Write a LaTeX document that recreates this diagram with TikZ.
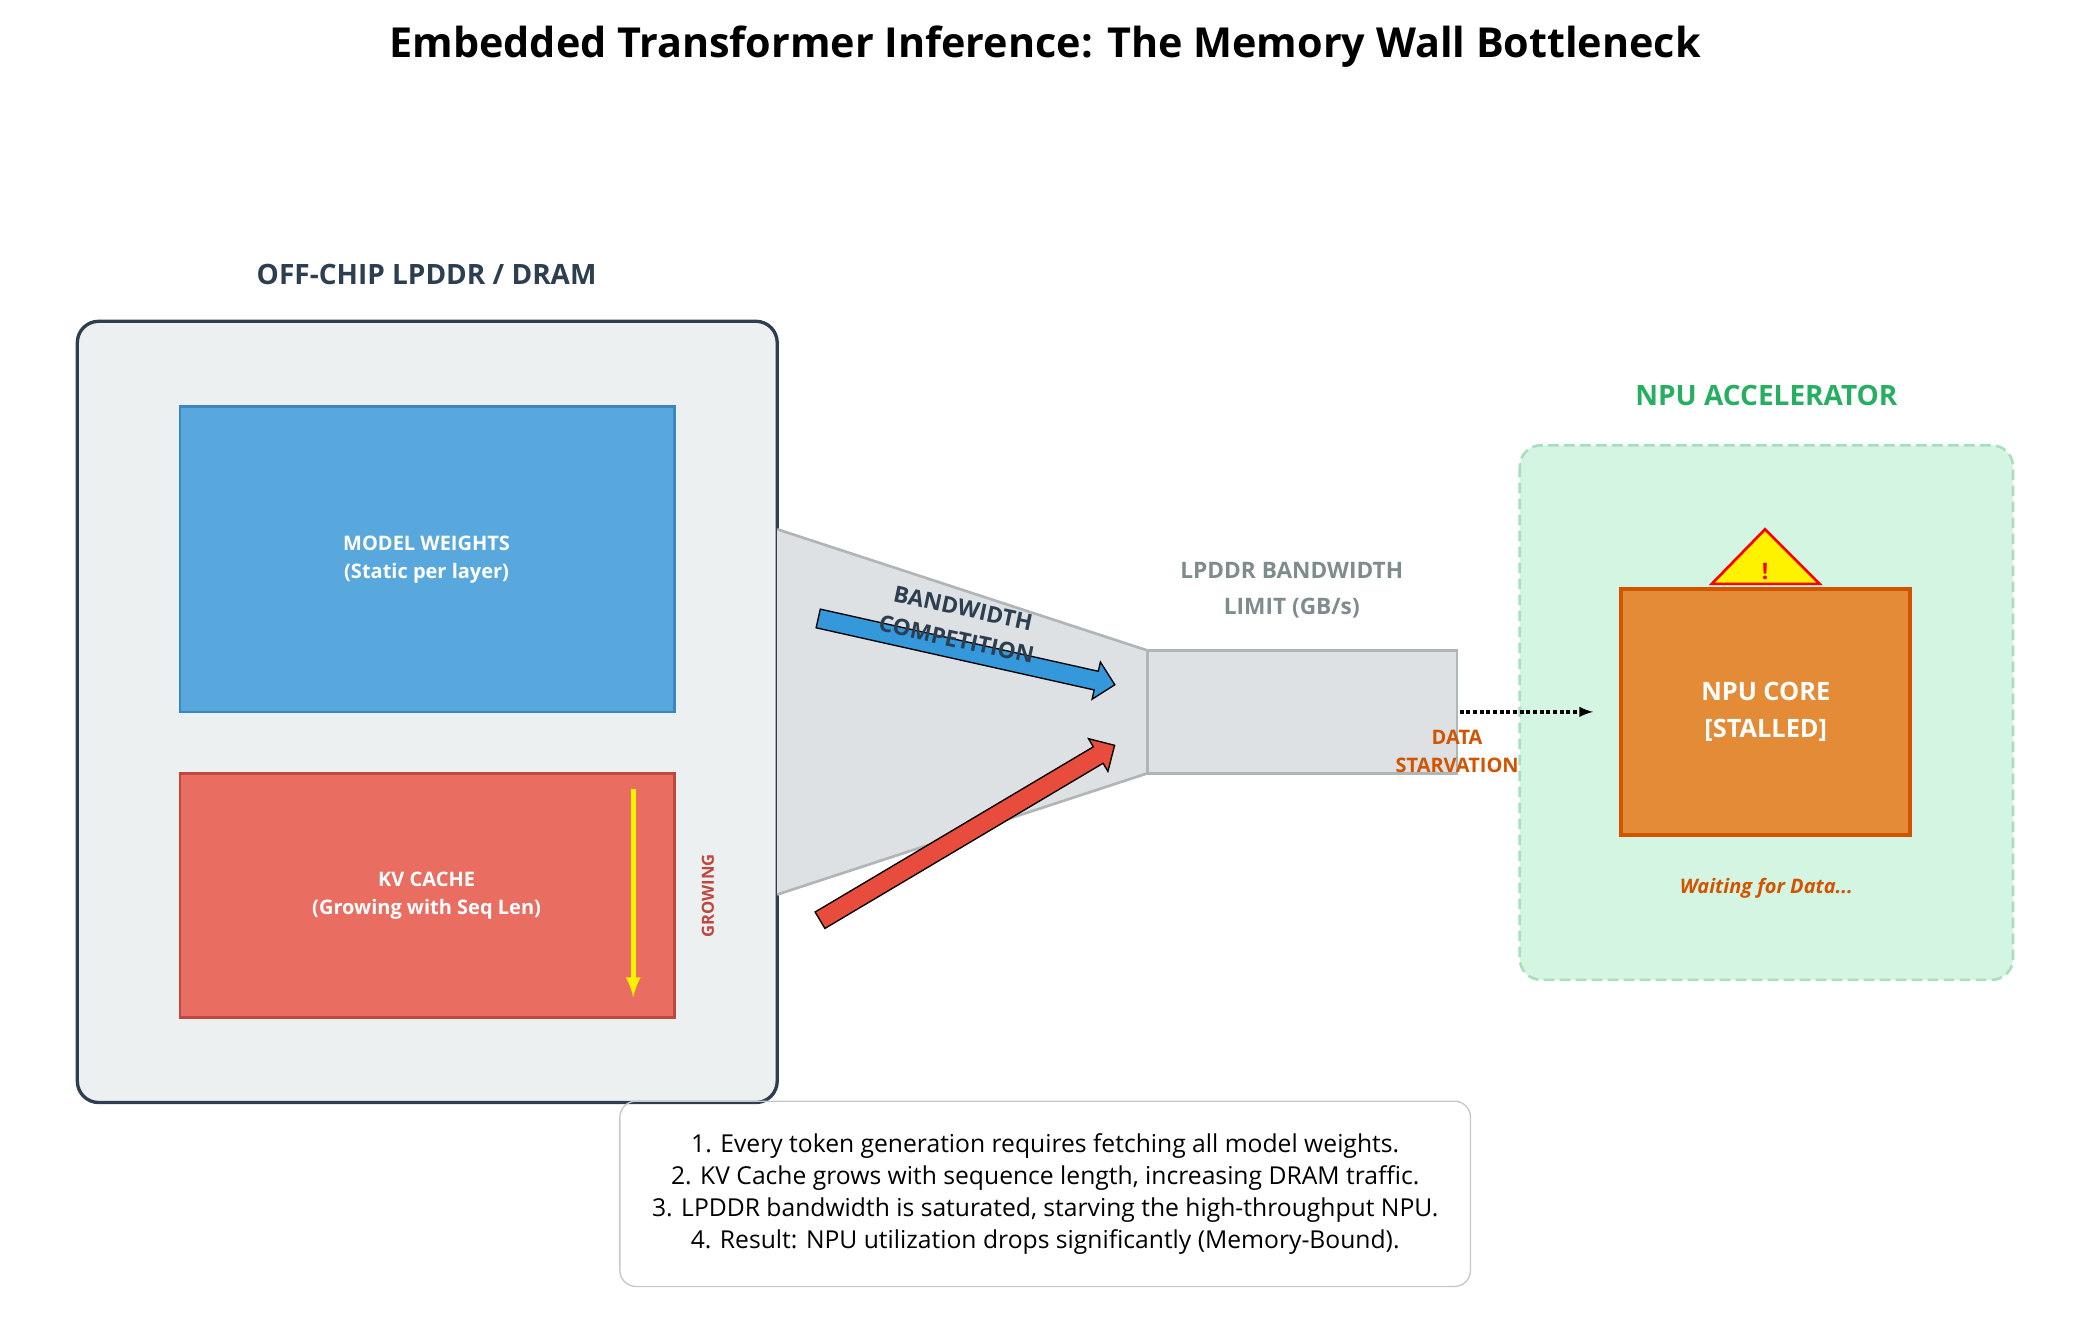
\documentclass[tikz,border=0pt]{standalone}
\usepackage{fontspec}
\setmainfont{Open Sans}
\usetikzlibrary{shapes.arrows}
\definecolor{navy}{HTML}{2C3E50}
\definecolor{dramfill}{HTML}{ECF0F1}
\definecolor{wfill}{HTML}{58A8DE}
\definecolor{wdraw}{HTML}{3A87C0}
\definecolor{kvfill}{HTML}{E96D61}
\definecolor{kvdraw}{HTML}{C0473D}
\definecolor{pipefill}{HTML}{DDE1E4}
\definecolor{pipedraw}{HTML}{B0B5B8}
\definecolor{grayt}{HTML}{7F8C8D}
\definecolor{orng}{HTML}{D35400}
\definecolor{npufill}{HTML}{D5F5E3}
\definecolor{npudraw}{HTML}{A9DFBF}
\definecolor{grn}{HTML}{27AE60}
\definecolor{corefill}{HTML}{E38B37}
\definecolor{arrblue}{HTML}{3498DB}
\definecolor{arrred}{HTML}{E74C3C}
\tikzset{
  lbl/.style={font=\bfseries\fontsize{15}{21}\selectfont, align=center},
  fatarrow/.style={single arrow, draw=black, line width=1pt, minimum width=18pt,
    inner xsep=0pt, inner ysep=4pt, single arrow head indent=0pt}
}
\begin{document}
\begin{tikzpicture}[x=1pt,y=-1pt]
\useasboundingbox (0,0) rectangle (1564,1001);

% Titre
\node[font=\bfseries\fontsize{31}{36}\selectfont] (title) at (784,35) {Embedded Transformer Inference: The Memory Wall Bottleneck};

%=== DRAM
\node[lbl, font=\bfseries\fontsize{21}{25}\selectfont, text=navy] (dramtitle) at (320,206) {OFF-CHIP LPDDR / DRAM};
\draw[navy, fill=dramfill, line width=2.5pt, rounded corners=16pt] (58,241) rectangle (583,827);
\draw[wdraw, fill=wfill, line width=2pt] (135,305) rectangle (506,534);
\node[lbl, text=white] (weights) at (320,420) {MODEL WEIGHTS\\(Static per layer)};
\draw[kvdraw, fill=kvfill, line width=2pt] (135,580) rectangle (506,763);
\node[lbl, text=white] (kv) at (320,672) {KV CACHE\\(Growing with Seq Len)};
\coordinate (gtop) at (475,592);
\coordinate (gbot) at (475,748);
\draw[yellow, line width=4pt, -latex] (gtop) -- (gbot);
\node[lbl, font=\bfseries\fontsize{12.5}{15}\selectfont, text=kvdraw, rotate=90] (growing) at (531,672) {GROWING};

%=== Goulot
\draw[pipedraw, fill=pipefill, line width=2pt] (583,397) -- (861,488) -- (861,580) -- (583,671);
\draw[pipedraw, fill=pipefill, line width=2pt] (861,488) rectangle (1093,580);
\node[fatarrow, fill=arrblue, minimum height=228pt, rotate=-12.6] (blue) at (721.5,488) {\vphantom{x}};
\node[fatarrow, fill=arrred, minimum height=257pt, rotate=30.7] (red) at (722.5,626.5) {\vphantom{x}};
\node[lbl, font=\bfseries\fontsize{17}{24}\selectfont, text=navy, rotate=-12] (compet) at (720,468) {BANDWIDTH\\COMPETITION};
\node[lbl, font=\bfseries\fontsize{17}{27}\selectfont, text=grayt] (limit) at (969,443) {LPDDR BANDWIDTH\\LIMIT (GB/s)};
\node[lbl, text=orng] (starve) at (1093,564) {DATA\\STARVATION};

%=== NPU
\node[lbl, font=\bfseries\fontsize{21}{25}\selectfont, text=grn] (nputitle) at (1325,297) {NPU ACCELERATOR};
\draw[npudraw, fill=npufill, line width=2pt, dash pattern=on 8pt off 4pt, rounded corners=16pt] (1140,334) rectangle (1510,735);
\node[draw=orng, fill=corefill, line width=3pt, minimum width=217pt, minimum height=184pt,
  lbl, font=\bfseries\fontsize{19}{28}\selectfont, text=white] (core) at (1324.5,534) {NPU CORE\\{[STALLED]}};
\draw[red, fill=yellow, line width=2pt] (1284,438) -- (1324,397) -- (1365,438) -- cycle;
\node[lbl, font=\bfseries\fontsize{17}{20}\selectfont, text=red] (warn) at (1324,429) {!};
\node[lbl, font=\bfseries\itshape\fontsize{15}{18}\selectfont, text=orng] (wait) at (1325,666) {Waiting for Data...};
\coordinate (pipeout) at (1095,534);
\draw[black, line width=2.5pt, dash pattern=on 3pt off 2pt, -latex] (pipeout) -- (core.west -| 1195,0);

%=== Notes
\node[draw=black!22, line width=1pt, rounded corners=12pt, minimum width=638pt, minimum height=139pt,
  align=center, font=\fontsize{18.5}{24}\selectfont] (notes) at (784,895.5)
  {1. Every token generation requires fetching all model weights.\\
   2. KV Cache grows with sequence length, increasing DRAM traffic.\\
   3. LPDDR bandwidth is saturated, starving the high-throughput NPU.\\
   4. Result: NPU utilization drops significantly (Memory-Bound).};
\end{tikzpicture}
\end{document}
